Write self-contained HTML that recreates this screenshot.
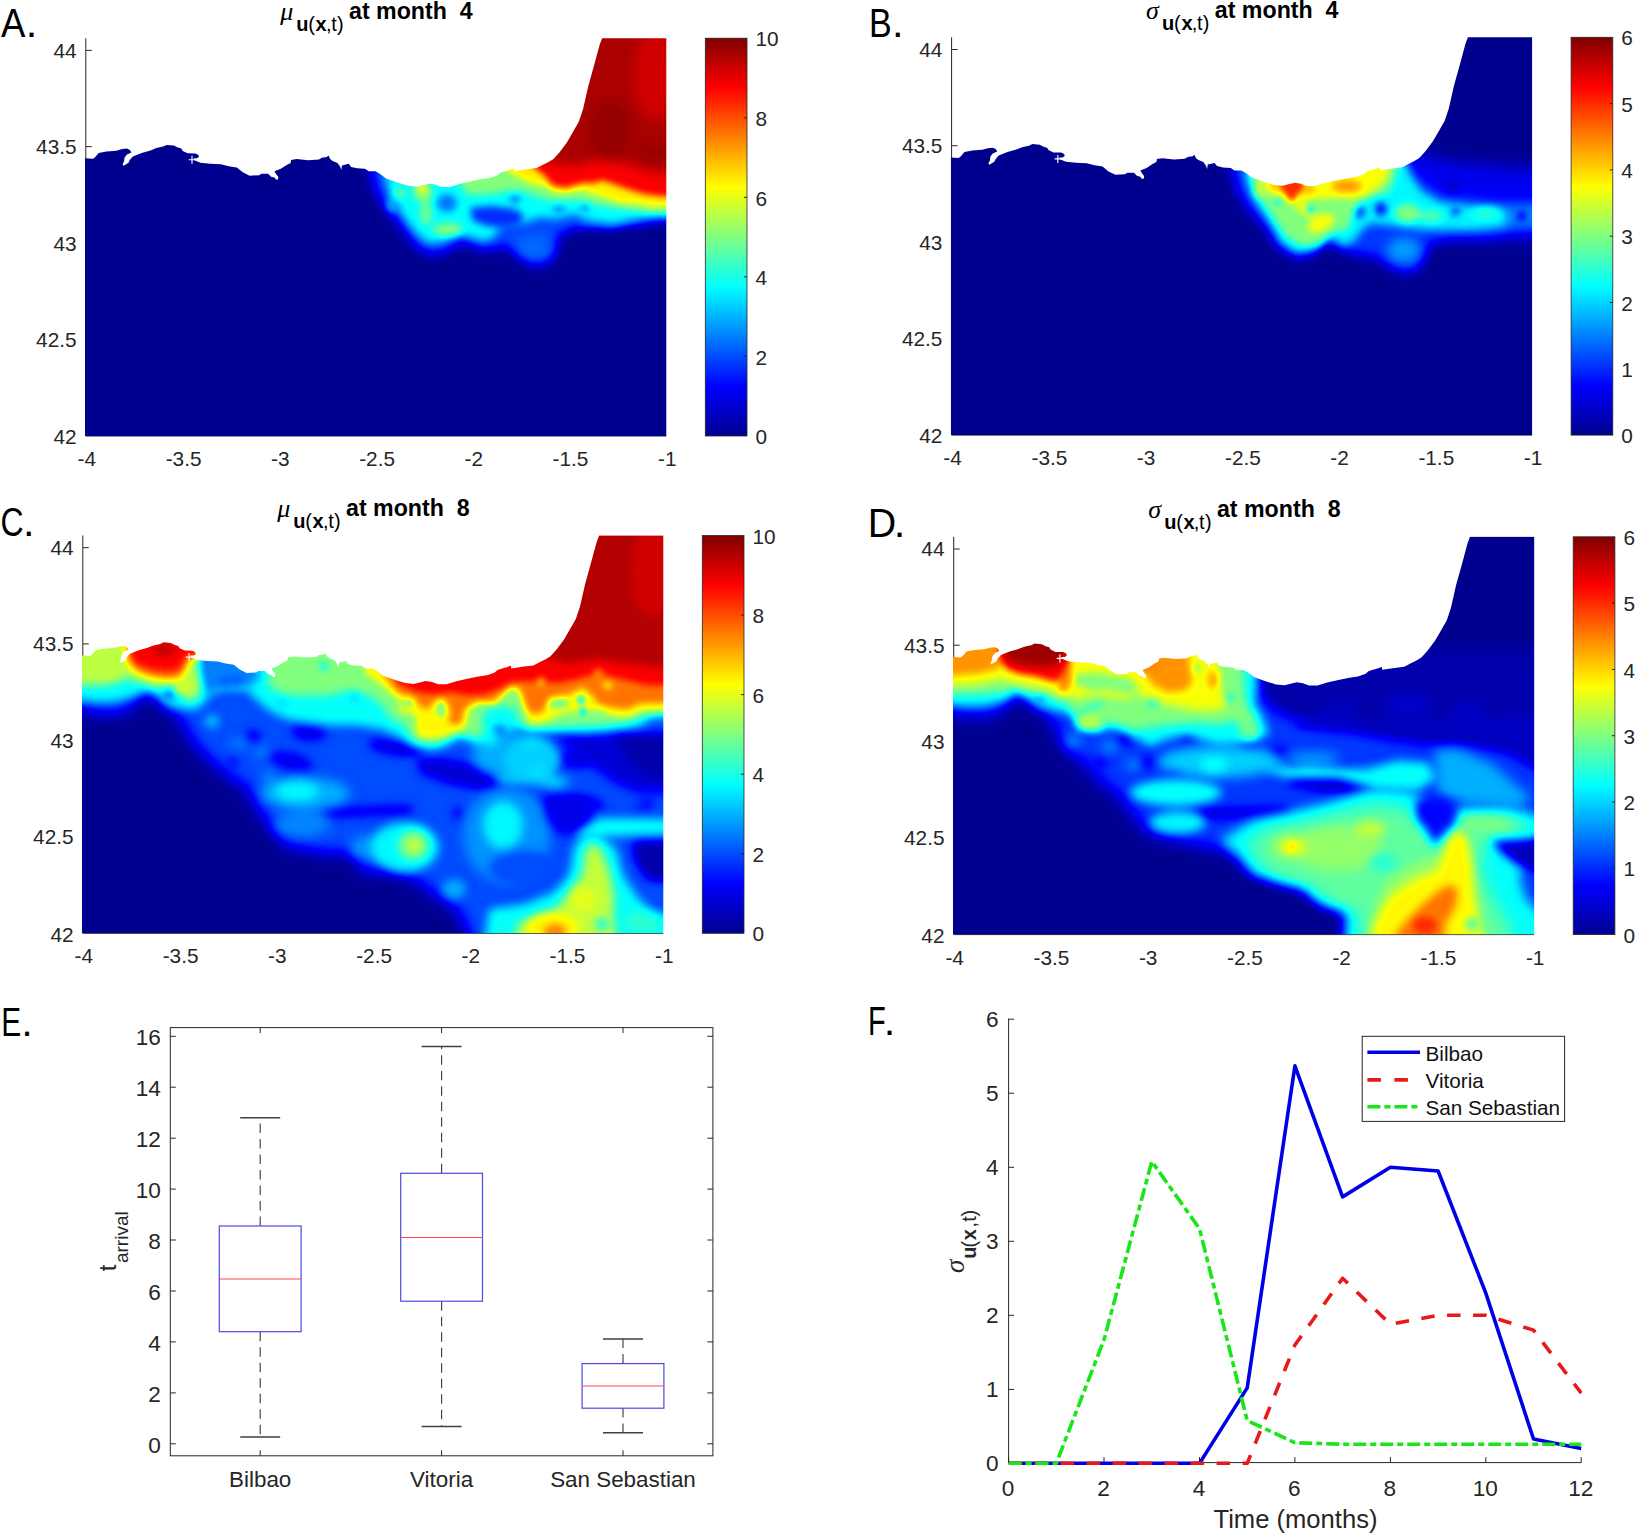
<!DOCTYPE html>
<html lang="en"><head><meta charset="utf-8"><title>Figure</title>
<style>
html,body{margin:0;padding:0;background:#fff}
svg{display:block}
text{font-family:"Liberation Sans",sans-serif;fill:#262626}
.tk{font-size:20.8px}
.tk2{font-size:22.6px}
.pl{font-size:41.5px;fill:#000}
.ttl{font-size:23.2px;font-weight:bold;fill:#000}
.sub{font-size:20px;fill:#000}
.mu{font-family:"Liberation Serif","DejaVu Serif",serif;font-style:italic;font-size:26px;fill:#000}
.ax{stroke:#262626;stroke-width:1;fill:none}
</style></head><body>
<svg width="1637" height="1535" viewBox="0 0 1637 1535">
<defs>
<clipPath id="coast"><path d="M85,158.3 92.8,158.8 94.8,157.4 98.7,153 106.5,151.5 116.3,150.7 122.1,149.1 127,148.6 129.9,150 131.4,152.5 127,154.4 124.6,157.4 124.1,161.3 122.6,164.2 123.6,165.7 128.5,162.7 129.9,159.8 132.9,156.4 141.7,153 150.5,150.5 156.3,148.1 163.2,146.6 166.6,144.9 173.9,145.6 177.8,147.6 181.3,148.6 182.7,151 187.6,153.3 195.4,153.5 198.4,154.9 198.9,156.9 196.9,158.3 193.5,158.3 194.5,160.3 200.3,162.7 210.1,163.7 220.9,164.2 228.7,166.2 236.8,167.4 242.7,172.3 249.6,175.7 259.3,175.2 261.3,173.7 268.1,173.7 271.1,176.7 274.5,177.6 275.9,179.6 277.9,179.6 278.4,177.1 275.9,173.7 274.5,171.3 280.8,168.8 286.7,164.9 290.6,163 291.1,160 296.5,159.1 308.2,160.3 319,159.6 321.9,157.8 326.8,157.1 328.5,155.6 330.2,159.1 332.6,161 337.5,163 340,166.4 341.4,169.8 341.9,165.4 348.8,163.8 351.2,166.9 357.1,168.3 364.9,168.8 368.8,171.3 375.6,171.3 380.5,174.2 386.1,178.5 398.3,182.8 408.1,185.8 416.7,186.7 428.9,183.7 435,184.6 441.1,187 449.6,187 459.4,184 470.4,181.5 481.4,179.1 490,177.9 497.3,175.4 501,172.4 509.5,169.9 513.8,168.3 514.4,171.2 526.6,169.3 536.4,168.1 542.5,165 548.6,162 553.5,158.9 559.6,152.2 566.9,142.4 570.5,136.3 578.8,121.8 583,109.3 588.2,86.5 593.4,67.8 599.6,44.9 602.1,38.2 666.3,38.2 666.3,436.0 85,436.0Z"/></clipPath>
<filter id="jet" color-interpolation-filters="sRGB" filterUnits="userSpaceOnUse" x="0" y="0" width="760" height="520"><feComponentTransfer><feFuncR type="table" tableValues="0 0 0 0 0.5 1 1 1 0.5"/><feFuncG type="table" tableValues="0 0 0.5 1 1 1 0.5 0 0"/><feFuncB type="table" tableValues="0.56 1 1 1 0.5 0 0 0 0"/></feComponentTransfer></filter>
<filter id="b2" color-interpolation-filters="sRGB" filterUnits="userSpaceOnUse" x="-100" y="-100" width="960" height="720"><feGaussianBlur stdDeviation="2"/></filter>
<filter id="b2_5" color-interpolation-filters="sRGB" filterUnits="userSpaceOnUse" x="-100" y="-100" width="960" height="720"><feGaussianBlur stdDeviation="2.5"/></filter>
<filter id="b3" color-interpolation-filters="sRGB" filterUnits="userSpaceOnUse" x="-100" y="-100" width="960" height="720"><feGaussianBlur stdDeviation="3"/></filter>
<filter id="b3_5" color-interpolation-filters="sRGB" filterUnits="userSpaceOnUse" x="-100" y="-100" width="960" height="720"><feGaussianBlur stdDeviation="3.5"/></filter>
<filter id="b4" color-interpolation-filters="sRGB" filterUnits="userSpaceOnUse" x="-100" y="-100" width="960" height="720"><feGaussianBlur stdDeviation="4"/></filter>
<filter id="b5" color-interpolation-filters="sRGB" filterUnits="userSpaceOnUse" x="-100" y="-100" width="960" height="720"><feGaussianBlur stdDeviation="5"/></filter>
<filter id="b6" color-interpolation-filters="sRGB" filterUnits="userSpaceOnUse" x="-100" y="-100" width="960" height="720"><feGaussianBlur stdDeviation="6"/></filter>
<filter id="b8" color-interpolation-filters="sRGB" filterUnits="userSpaceOnUse" x="-100" y="-100" width="960" height="720"><feGaussianBlur stdDeviation="8"/></filter>
<filter id="b10" color-interpolation-filters="sRGB" filterUnits="userSpaceOnUse" x="-100" y="-100" width="960" height="720"><feGaussianBlur stdDeviation="10"/></filter>
<filter id="b12" color-interpolation-filters="sRGB" filterUnits="userSpaceOnUse" x="-100" y="-100" width="960" height="720"><feGaussianBlur stdDeviation="12"/></filter>
<linearGradient id="jb" x1="0" y1="1" x2="0" y2="0"><stop offset="0" stop-color="#00008f"/><stop offset="0.125" stop-color="#0000ff"/><stop offset="0.25" stop-color="#0080ff"/><stop offset="0.375" stop-color="#00ffff"/><stop offset="0.5" stop-color="#80ff80"/><stop offset="0.625" stop-color="#ffff00"/><stop offset="0.75" stop-color="#ff8000"/><stop offset="0.875" stop-color="#ff0000"/><stop offset="1" stop-color="#800000"/></linearGradient>
</defs>
<rect width="1637" height="1535" fill="#fff"/>
<g transform="translate(0,0)">
<path class="ax" d="M85.8,38.2V436.0H666.3"/>
<path class="ax" d="M85.8,50.4h6M85.8,146.6h6"/>
<g clip-path="url(#coast)"><g filter="url(#jet)">
<rect x="-60" y="-60" width="880" height="640" fill="#000"/>
<g filter="url(#b6)"><polygon fill="#333333" points="366,140 372,178 377,195 392,215 406,234 418,249 432,255 446,252 457,245 465,242 476,249 492,250 505,246 515,254 528,264 545,266 556,254 559,236 575,228 640,224 700,218 700,140"/></g>
<g filter="url(#b3_5)"><polygon fill="#333333" points="556,140 556,226 575,222 586,226 600,227 612,228 630,224 650,219 700,216 700,140"/></g>
<g filter="url(#b6)"><ellipse fill="#3b3b3b" cx="534" cy="247" rx="17" ry="11"/></g>
<g filter="url(#b4)"><polygon fill="#616161" points="384,150 386,180 392,198 404,217 416,233 428,243 445,241 458,233 470,237 485,241 495,236 500,226 512,224 523,223 540,217 556,219 575,214 586,220 600,222 612,224 630,220 650,216 700,213 700,150"/></g>
<g filter="url(#b3_5)"><ellipse fill="#3d3d3d" cx="447" cy="203" rx="10" ry="9"/><polygon fill="#2b2b2b" points="470,208 490,206 510,208 523,213 521,224 505,228 487,226 473,221"/><ellipse fill="#383838" cx="515" cy="199" rx="5" ry="4"/><ellipse fill="#404040" cx="559" cy="209" rx="6" ry="4"/><ellipse fill="#404040" cx="585" cy="206" rx="4" ry="6"/><ellipse fill="#4c4c4c" cx="392" cy="205" rx="6" ry="8"/></g>
<g filter="url(#b3_5)"><polygon fill="#808080" points="458,150 460,184 468,195 490,194 508,191 520,190 535,196 552,201 575,200 592,204 610,207 630,210 650,213 700,212 700,150"/><ellipse fill="#808080" cx="448" cy="229.5" rx="15" ry="6.5"/><ellipse fill="#858585" cx="423" cy="193" rx="9" ry="9"/><ellipse fill="#808080" cx="426" cy="213" rx="5" ry="12"/><ellipse fill="#737373" cx="400" cy="193" rx="7" ry="6"/></g>
<g filter="url(#b3)"><polygon fill="#a3a3a3" points="506,150 508,172 520,178 532,184 545,186 553,192 568,193 582,190 596,195 609,199 620,203 637,204 650,207 700,207 700,150"/><ellipse fill="#9e9e9e" cx="422" cy="188" rx="6" ry="4.5"/></g>
<g filter="url(#b3)"><polygon fill="#e0e0e0" points="528,150 532,166 545,176 552,185 565,188 582,183 596,183 601,180 616,185 630,190 644,194 657,196 700,198 700,20 528,20"/></g>
<g filter="url(#b6)"><polygon fill="#f4f4f4" points="535,150 540,160 555,163 575,166 596,160 623,163 650,172 700,176 700,0 535,0"/><ellipse fill="#ebebeb" cx="655" cy="75" rx="22" ry="45"/><ellipse fill="#f9f9f9" cx="610" cy="130" rx="22" ry="30"/><ellipse fill="#f9f9f9" cx="655" cy="152" rx="18" ry="8"/></g>
</g></g>
<path d="M188.8,159.8h6.4M192,155.8v8" stroke="#fff" stroke-width="1.1" fill="none"/>
<text class="tk" x="76.6" y="57.9" text-anchor="end">44</text>
<text class="tk" x="76.6" y="154.1" text-anchor="end">43.5</text>
<text class="tk" x="76.6" y="250.5" text-anchor="end">43</text>
<text class="tk" x="76.6" y="346.9" text-anchor="end">42.5</text>
<text class="tk" x="76.6" y="444.3" text-anchor="end">42</text>
<text class="tk" x="86.8" y="466" text-anchor="middle">-4</text>
<text class="tk" x="183.6" y="466" text-anchor="middle">-3.5</text>
<text class="tk" x="280.3" y="466" text-anchor="middle">-3</text>
<text class="tk" x="377.1" y="466" text-anchor="middle">-2.5</text>
<text class="tk" x="473.8" y="466" text-anchor="middle">-2</text>
<text class="tk" x="570.5" y="466" text-anchor="middle">-1.5</text>
<text class="tk" x="667.3" y="466" text-anchor="middle">-1</text>
<rect x="705.3" y="38.2" width="41.7" height="397.8" fill="url(#jb)" stroke="#262626" stroke-width="0.8"/>
<text class="tk" x="755.5" y="444.2">0</text>
<path class="ax" d="M747,356.4h-3"/>
<text class="tk" x="755.5" y="364.6">2</text>
<path class="ax" d="M747,276.9h-3"/>
<text class="tk" x="755.5" y="285.1">4</text>
<path class="ax" d="M747,197.3h-3"/>
<text class="tk" x="755.5" y="205.5">6</text>
<path class="ax" d="M747,117.8h-3"/>
<text class="tk" x="755.5" y="126.0">8</text>
<text class="tk" x="755.5" y="46.4">10</text>
<text class="mu" x="280.3" y="19.6">μ</text>
<text class="sub" y="30.8"><tspan x="296.3" font-weight="bold">u</tspan><tspan x="308.3">(</tspan><tspan x="315.6" font-weight="bold">x</tspan><tspan x="325.9">,</tspan><tspan x="331.2">t</tspan><tspan x="337">)</tspan></text>
<text class="ttl" x="349" y="18.8" xml:space="preserve">at month  4</text>
</g>
<g transform="translate(865.8,-0.9)">
<path class="ax" d="M85.8,38.2V436.0H666.3"/>
<path class="ax" d="M85.8,50.4h6M85.8,146.6h6"/>
<g clip-path="url(#coast)"><g filter="url(#jet)">
<rect x="-60" y="-60" width="880" height="640" fill="#000"/>
<g filter="url(#b8)"><polygon fill="#1c1c1c" points="540,140 560,156 585,163 620,166 700,172 700,240 540,240"/></g>
<g filter="url(#b6)"><polygon fill="#2e2e2e" points="360,140 366,172 371,192 384,212 402,232 412,248 428,258 445,258 455,248 463,244 472,250 490,256 508,258 520,266 535,274 552,272 560,258 564,244 585,239 625,239 648,234 700,231 700,203 620,199 575,193 552,178 542,160 540,140"/></g>
<g filter="url(#b6)"><ellipse fill="#474747" cx="538" cy="251" rx="17" ry="13"/></g>
<g filter="url(#b4)"><polygon fill="#5e5e5e" points="378,150 380,178 386,198 398,215 407,229 415,244 431,254 450,250 458,243 463,239 470,241 476,247 488,243 497,230 506,224 520,226 535,228 560,231 585,231 610,231 640,228 650,222 648,213 640,209 600,206 575,203 556,192 544,174 535,150"/><polygon fill="#404040" points="640,207 700,205 700,226 640,228"/><ellipse fill="#0d0d0d" cx="586" cy="187" rx="7" ry="5"/></g>
<g filter="url(#b3)"><ellipse fill="#333333" cx="493" cy="213" rx="7" ry="6"/><ellipse fill="#262626" cx="515" cy="210" rx="6" ry="7"/><ellipse fill="#333333" cx="590" cy="213" rx="5" ry="5"/><ellipse fill="#1a1a1a" cx="656" cy="217" rx="4" ry="5"/></g>
<g filter="url(#b3_5)"><polygon fill="#808080" points="384,150 386,180 392,196 402,210 411,224 421,238 436,247 452,245 462,237 470,232 480,232 486,220 492,205 500,200 510,196 522,194 528,182 532,168 532,150"/><ellipse fill="#808080" cx="542" cy="214" rx="13" ry="9"/><ellipse fill="#737373" cx="566" cy="217" rx="12" ry="6"/><ellipse fill="#696969" cx="620" cy="214" rx="14" ry="6"/><ellipse fill="#5c5c5c" cx="596" cy="221" rx="8" ry="4"/></g>
<g filter="url(#b3)"><polygon fill="#9e9e9e" points="392,150 393,182 400,192 412,197 424,205 436,204 446,200 456,200 470,199 485,200 500,197 512,189 522,178 524,150"/><ellipse fill="#9e9e9e" cx="455" cy="224" rx="14" ry="8" transform="rotate(-25 455 224)"/><polygon fill="#999999" points="424,200 430,210 442,218 452,216 440,204 430,196"/><ellipse fill="#8f8f8f" cx="397" cy="190" rx="8" ry="8"/></g>
<g filter="url(#b2)"><ellipse fill="#616161" cx="445" cy="210" rx="4" ry="3.5"/><ellipse fill="#6b6b6b" cx="412" cy="203" rx="5" ry="3"/></g>
<g filter="url(#b3)"><ellipse fill="#b8b8b8" cx="481" cy="187" rx="15" ry="6.5"/><ellipse fill="#b2b2b2" cx="440" cy="190" rx="10" ry="5"/><ellipse fill="#b2b2b2" cx="410" cy="187" rx="8" ry="4"/></g>
<g filter="url(#b2_5)"><polygon fill="#d4d4d4" points="415,178 436,178 438,188 426,203 414,188"/></g>
</g></g>
<path d="M188.8,159.8h6.4M192,155.8v8" stroke="#fff" stroke-width="1.1" fill="none"/>
<text class="tk" x="76.6" y="57.9" text-anchor="end">44</text>
<text class="tk" x="76.6" y="154.1" text-anchor="end">43.5</text>
<text class="tk" x="76.6" y="250.5" text-anchor="end">43</text>
<text class="tk" x="76.6" y="346.9" text-anchor="end">42.5</text>
<text class="tk" x="76.6" y="444.3" text-anchor="end">42</text>
<text class="tk" x="86.8" y="466" text-anchor="middle">-4</text>
<text class="tk" x="183.6" y="466" text-anchor="middle">-3.5</text>
<text class="tk" x="280.3" y="466" text-anchor="middle">-3</text>
<text class="tk" x="377.1" y="466" text-anchor="middle">-2.5</text>
<text class="tk" x="473.8" y="466" text-anchor="middle">-2</text>
<text class="tk" x="570.5" y="466" text-anchor="middle">-1.5</text>
<text class="tk" x="667.3" y="466" text-anchor="middle">-1</text>
<rect x="705.3" y="38.2" width="41.7" height="397.8" fill="url(#jb)" stroke="#262626" stroke-width="0.8"/>
<text class="tk" x="755.5" y="444.2">0</text>
<path class="ax" d="M747,369.7h-3"/>
<text class="tk" x="755.5" y="377.9">1</text>
<path class="ax" d="M747,303.4h-3"/>
<text class="tk" x="755.5" y="311.6">2</text>
<path class="ax" d="M747,237.1h-3"/>
<text class="tk" x="755.5" y="245.3">3</text>
<path class="ax" d="M747,170.8h-3"/>
<text class="tk" x="755.5" y="179.0">4</text>
<path class="ax" d="M747,104.5h-3"/>
<text class="tk" x="755.5" y="112.7">5</text>
<text class="tk" x="755.5" y="46.4">6</text>
<text class="mu" x="280.3" y="19.6">σ</text>
<text class="sub" y="30.8"><tspan x="296.3" font-weight="bold">u</tspan><tspan x="308.3">(</tspan><tspan x="315.6" font-weight="bold">x</tspan><tspan x="325.9">,</tspan><tspan x="331.2">t</tspan><tspan x="337">)</tspan></text>
<text class="ttl" x="349" y="18.8" xml:space="preserve">at month  4</text>
</g>
<g transform="translate(-3,497.3)">
<path class="ax" d="M85.8,38.2V436.0H666.3"/>
<path class="ax" d="M85.8,50.4h6M85.8,146.6h6"/>
<g clip-path="url(#coast)"><g filter="url(#jet)">
<rect x="-60" y="-60" width="880" height="640" fill="#000"/>
<g filter="url(#b8)"><polygon fill="#333333" points="60,120 60,206 101,216 120,217 134,211 142,201 151,196 159,201 166,210 181,218 187,230 199,249 217,267 236,283 250,290 257,306 271,326 287,348 327,356 354,356 367,375 394,375 421,384 435,396 453,407 465,420 478,460 720,460 720,120"/></g>
<g filter="url(#b5)"><polygon fill="#171717" points="296,228 324,230 330,240 310,244 296,238"/><polygon fill="#1a1a1a" points="270,254 300,256 316,266 312,274 290,272 272,264"/><polygon fill="#141414" points="372,242 400,244 422,250 424,258 400,258 376,252"/><polygon fill="#141414" points="420,262 450,262 480,268 503,280 503,292 480,292 450,286 424,276"/><ellipse fill="#121212" cx="256" cy="239" rx="7" ry="5"/><ellipse fill="#1a1a1a" cx="236" cy="265" rx="5" ry="5"/><ellipse fill="#141414" cx="461" cy="278" rx="9" ry="5"/><ellipse fill="#1a1a1a" cx="461" cy="316" rx="6" ry="5"/><ellipse fill="#141414" cx="558" cy="305" rx="10" ry="7"/><ellipse fill="#171717" cx="584" cy="300" rx="6" ry="5"/><ellipse fill="#0f0f0f" cx="647" cy="306" rx="9" ry="5"/><polygon fill="#080808" points="612,242 720,238 720,264 660,264 640,272 615,260"/><polygon fill="#080808" points="636,344 720,342 720,388 650,382 638,362"/><polygon fill="#141414" points="322,312 415,308 415,316 332,320"/><ellipse fill="#1a1a1a" cx="580" cy="262" rx="18" ry="10"/><polygon fill="#1a1a1a" points="540,300 600,296 610,310 560,318"/></g>
<g filter="url(#b6)"><ellipse fill="#4c4c4c" cx="308" cy="296" rx="45" ry="16"/><ellipse fill="#424242" cx="305" cy="327" rx="28" ry="13"/><ellipse fill="#454545" cx="510" cy="338" rx="44" ry="48"/><ellipse fill="#4c4c4c" cx="515" cy="258" rx="40" ry="22"/><ellipse fill="#474747" cx="375" cy="350" rx="22" ry="12"/><ellipse fill="#454545" cx="242" cy="246" rx="9" ry="5"/><ellipse fill="#454545" cx="266" cy="255" rx="9" ry="5"/><ellipse fill="#454545" cx="272" cy="279" rx="6" ry="7"/></g>
<g filter="url(#b5)"><ellipse fill="#5e5e5e" cx="300" cy="294" rx="22" ry="10"/><ellipse fill="#575757" cx="215" cy="224" rx="7" ry="6"/><ellipse fill="#5e5e5e" cx="408" cy="350" rx="34" ry="25"/><ellipse fill="#5e5e5e" cx="506" cy="328" rx="20" ry="24"/><ellipse fill="#545454" cx="535" cy="262" rx="28" ry="22"/><polygon fill="#545454" points="500,276 560,278 580,284 560,292 540,288 500,284"/><polygon fill="#616161" points="577,326 600,321 640,321 720,323 720,336 640,338 600,340 580,338"/><ellipse fill="#4c4c4c" cx="457" cy="392" rx="12" ry="10"/><ellipse fill="#595959" cx="535" cy="245" rx="10" ry="6"/><ellipse fill="#595959" cx="540" cy="274" rx="9" ry="6"/><ellipse fill="#333333" cx="527" cy="371" rx="35" ry="18"/></g>
<g filter="url(#b6)"><polygon fill="#141414" points="556,238 600,238 720,238 720,298 640,294 616,284 594,266 572,250"/><polygon fill="#333333" points="575,276 600,284 640,298 660,306 640,310 600,300 570,288"/></g>
<g filter="url(#b5)"><polygon fill="#080808" points="620,240 720,240 720,282 655,280 632,264"/><polygon fill="#1a1a1a" points="548,302 575,300 596,306 596,322 580,336 562,338 550,320"/></g>
<g filter="url(#b5)"><polygon fill="#616161" points="485,460 492,412 527,407 555,396 572,378 577,351 584,339 600,336 619,351 626,378 640,399 654,413 720,432 720,460"/><ellipse fill="#787878" cx="416" cy="348" rx="16" ry="15"/></g>
<g filter="url(#b5)"><polygon fill="#919191" points="512,460 522,426 556,414 573,396 586,376 589,353 596,346 604,353 612,374 617,398 616,420 622,460"/><ellipse fill="#919191" cx="417" cy="348" rx="9" ry="9"/><ellipse fill="#6b6b6b" cx="645" cy="425" rx="18" ry="10"/></g>
<g filter="url(#b4)"><ellipse fill="#a3a3a3" cx="556" cy="430" rx="26" ry="14"/><ellipse fill="#999999" cx="586" cy="402" rx="13" ry="12"/><ellipse fill="#5c5c5c" cx="605" cy="427" rx="6" ry="6"/></g>
<g filter="url(#b3)"><ellipse fill="#bdbdbd" cx="558" cy="434" rx="11" ry="7"/></g>
<g filter="url(#b5)"><polygon fill="#616161" points="60,120 60,200 100,205 120,204 135,200 150,193 160,198 170,208 185,212 200,212 208,205 215,195 230,192 250,193 262,205 275,215 290,222 310,225 335,228 360,228 385,232 403,240 416,248 437,252 450,248 462,240 470,243 480,248 497,248 506,238 520,232 545,234 565,234 590,235 610,233 625,231 643,229 654,221 720,216 720,120"/></g>
<g filter="url(#b4)"><polygon fill="#404040" points="200,150 250,160 264,178 252,190 225,190 212,198 203,185"/><ellipse fill="#2e2e2e" cx="228" cy="186" rx="6" ry="4"/><ellipse fill="#2e2e2e" cx="240" cy="184" rx="5" ry="4"/><ellipse fill="#141414" cx="172" cy="197.5" rx="4" ry="3.5"/><ellipse fill="#262626" cx="503" cy="233" rx="5" ry="4"/></g>
<g filter="url(#b4)"><polygon fill="#8f8f8f" points="60,120 60,186 100,188 118,186 130,180 140,184 160,190 175,187 185,196 192,204 200,200 204,188 200,170 198,120"/><polygon fill="#808080" points="272,120 272,190 290,198 330,198 352,193 372,198 386,208 394,222 403,224 412,235 420,245 437,247 451,242 456,238 467,237 480,240 487,235 485,223 489,214 497,211 510,207 519,216 523,224 531,231 560,230 590,228 606,228 625,226 640,222 652,216 720,213 720,120"/></g>
<g filter="url(#b3)"><ellipse fill="#5e5e5e" cx="327" cy="169" rx="4" ry="4"/><ellipse fill="#575757" cx="285" cy="205" rx="6" ry="4"/><ellipse fill="#575757" cx="358" cy="200" rx="6" ry="4"/><ellipse fill="#666666" cx="493" cy="219" rx="4" ry="5"/></g>
<g filter="url(#b3)"><polygon fill="#a1a1a1" points="366,120 368,176 380,184 394,196 403,203 403,214 416,216 420,223 418,231 422,240 437,241 451,238 458,234 466,233 471,223 471,214 478,207 489,205 499,206 506,199 514,191 523,197 525,207 530,217 531,226 548,225 560,218 572,214 590,214 602,212 614,218 630,220 643,214 720,210 720,120"/><polygon fill="#999999" points="128,120 128,166 137,175 151,180 168,183 181,183 188,176 191,164 195,120"/><ellipse fill="#949494" cx="186" cy="190" rx="8" ry="6"/></g>
<g filter="url(#b2_5)"><ellipse fill="#808080" cx="444" cy="212" rx="5" ry="8"/><ellipse fill="#808080" cx="410" cy="206" rx="7" ry="3.5"/><ellipse fill="#808080" cx="514" cy="203" rx="5" ry="7"/><ellipse fill="#6b6b6b" cx="516" cy="212" rx="4" ry="3"/><ellipse fill="#808080" cx="561" cy="206" rx="11" ry="6"/><ellipse fill="#666666" cx="584" cy="203" rx="4" ry="5"/><ellipse fill="#404040" cx="586" cy="214" rx="3" ry="3"/></g>
<g filter="url(#b3)"><polygon fill="#c2c2c2" points="385,120 388,180 403,197 416,199 424,210 431,212 437,204 444,200 451,205 454,216 451,224 458,228 465,224 466,214 473,207 480,204 497,204 504,197 510,191 516,187 523,191 527,201 530,211 536,217 546,214 553,200 572,197 585,190 594,196 601,206 614,210 630,212 643,206 720,204 720,120"/></g>
<g filter="url(#b3)"><polygon fill="#e0e0e0" points="396,120 400,186 420,195 437,197 454,195 471,198 488,197 501,192 514,185 527,184 543,185 560,186 580,182 600,176 625,182 650,188 720,190 720,120"/><polygon fill="#a3a3a3" points="188,120 188,160 200,161 201,120"/><ellipse fill="#a3a3a3" cx="544" cy="184" rx="4" ry="3"/><ellipse fill="#a3a3a3" cx="610.5" cy="188" rx="5" ry="4"/><ellipse fill="#b2b2b2" cx="601.5" cy="175" rx="4" ry="3"/></g>
<g filter="url(#b4)"><polygon fill="#cccccc" points="130,120 131,162 138,172 152,178 168,181 182,180 188,172 191,162 201,160 202,120"/></g>
<g filter="url(#b3_5)"><polygon fill="#e0e0e0" points="133,120 135,160 142,167 154,171 168,173 180,172 185,166 188,158 200,157 201,120"/></g>
<g filter="url(#b5)"><polygon fill="#f2f2f2" points="545,120 548,160 570,166 600,162 630,166 660,170 720,172 720,0 545,0"/><ellipse fill="#f0f0f0" cx="167" cy="152" rx="12" ry="6"/><ellipse fill="#ebebeb" cx="655" cy="75" rx="22" ry="45"/></g>
</g></g>
<path d="M188.8,159.8h6.4M192,155.8v8" stroke="#fff" stroke-width="1.1" fill="none"/>
<text class="tk" x="76.6" y="57.9" text-anchor="end">44</text>
<text class="tk" x="76.6" y="154.1" text-anchor="end">43.5</text>
<text class="tk" x="76.6" y="250.5" text-anchor="end">43</text>
<text class="tk" x="76.6" y="346.9" text-anchor="end">42.5</text>
<text class="tk" x="76.6" y="444.3" text-anchor="end">42</text>
<text class="tk" x="86.8" y="466" text-anchor="middle">-4</text>
<text class="tk" x="183.6" y="466" text-anchor="middle">-3.5</text>
<text class="tk" x="280.3" y="466" text-anchor="middle">-3</text>
<text class="tk" x="377.1" y="466" text-anchor="middle">-2.5</text>
<text class="tk" x="473.8" y="466" text-anchor="middle">-2</text>
<text class="tk" x="570.5" y="466" text-anchor="middle">-1.5</text>
<text class="tk" x="667.3" y="466" text-anchor="middle">-1</text>
<rect x="705.3" y="38.2" width="41.7" height="397.8" fill="url(#jb)" stroke="#262626" stroke-width="0.8"/>
<text class="tk" x="755.5" y="444.2">0</text>
<path class="ax" d="M747,356.4h-3"/>
<text class="tk" x="755.5" y="364.6">2</text>
<path class="ax" d="M747,276.9h-3"/>
<text class="tk" x="755.5" y="285.1">4</text>
<path class="ax" d="M747,197.3h-3"/>
<text class="tk" x="755.5" y="205.5">6</text>
<path class="ax" d="M747,117.8h-3"/>
<text class="tk" x="755.5" y="126.0">8</text>
<text class="tk" x="755.5" y="46.4">10</text>
<text class="mu" x="280.3" y="19.6">μ</text>
<text class="sub" y="30.8"><tspan x="296.3" font-weight="bold">u</tspan><tspan x="308.3">(</tspan><tspan x="315.6" font-weight="bold">x</tspan><tspan x="325.9">,</tspan><tspan x="331.2">t</tspan><tspan x="337">)</tspan></text>
<text class="ttl" x="349" y="18.8" xml:space="preserve">at month  8</text>
</g>
<g transform="translate(867.9,498.6)">
<path class="ax" d="M85.8,38.2V436.0H666.3"/>
<path class="ax" d="M85.8,50.4h6M85.8,146.6h6"/>
<g clip-path="url(#coast)"><g filter="url(#jet)">
<rect x="-60" y="-60" width="880" height="640" fill="#000"/>
<g filter="url(#b8)"><polygon fill="#2e2e2e" points="60,120 60,210 101,218 120,218 134,213 142,203 151,196 157,200 166,210 181,217 189,236 199,254 217,266 232,284 250,296 260,310 281,336 327,347 359,352 384,374 435,385 448,401 478,410 474,460 720,460 720,300 690,262 640,248 600,242 560,242 520,236 480,226 440,220 410,210 395,190 390,120"/></g>
<g filter="url(#b8)"><polygon fill="#080808" points="395,150 560,150 720,150 720,240 640,236 560,232 500,226 440,214 400,200"/><ellipse fill="#141414" cx="470" cy="215" rx="20" ry="8"/><ellipse fill="#141414" cx="540" cy="208" rx="25" ry="10"/><ellipse fill="#141414" cx="600" cy="215" rx="20" ry="8"/><ellipse fill="#121212" cx="650" cy="218" rx="12" ry="6"/></g>
<g filter="url(#b5)"><ellipse fill="#0f0f0f" cx="257" cy="240" rx="8" ry="5"/><ellipse fill="#0d0d0d" cx="319" cy="236" rx="10" ry="7"/><ellipse fill="#121212" cx="380" cy="247" rx="7" ry="5"/><ellipse fill="#141414" cx="279" cy="264" rx="8" ry="5"/><ellipse fill="#121212" cx="410" cy="254" rx="10" ry="5"/><ellipse fill="#141414" cx="233" cy="264" rx="5" ry="5"/><ellipse fill="#141414" cx="309" cy="270" rx="5" ry="5"/><polygon fill="#0f0f0f" points="420,264 450,264 480,268 506,278 506,294 480,296 450,292 422,286"/><polygon fill="#141414" points="327,310 421,308 421,318 332,321"/><ellipse fill="#121212" cx="560" cy="312" rx="14" ry="12"/><polygon fill="#0a0a0a" points="634,340 720,338 720,368 660,366 640,356"/><ellipse fill="#0f0f0f" cx="456" cy="278" rx="10" ry="5"/><polygon fill="#0f0f0f" points="430,228 500,232 560,238 600,240 640,252 666,270 720,290 720,220 430,220"/></g>
<g filter="url(#b6)"><ellipse fill="#545454" cx="352" cy="263" rx="62" ry="16"/><polygon fill="#4c4c4c" points="566,252 590,250 625,266 652,290 664,300 650,310 600,306 570,296"/><ellipse fill="#474747" cx="205" cy="242" rx="8" ry="7"/><ellipse fill="#474747" cx="242" cy="248" rx="9" ry="6"/><ellipse fill="#474747" cx="266" cy="266" rx="8" ry="6"/><ellipse fill="#4c4c4c" cx="445" cy="260" rx="28" ry="6"/></g>
<g filter="url(#b5)"><ellipse fill="#616161" cx="308" cy="294" rx="46" ry="13"/><ellipse fill="#5e5e5e" cx="310" cy="324" rx="28" ry="11"/><polygon fill="#616161" points="395,270 440,266 500,270 530,262 560,264 568,280 550,292 505,290 470,280 420,280"/><ellipse fill="#616161" cx="346" cy="266" rx="14" ry="8"/></g>
<g filter="url(#b6)"><polygon fill="#616161" points="352,342 384,322 421,314 464,303 502,290 540,292 575,310 600,312 640,312 690,320 690,338 660,345 652,380 658,400 690,432 690,460 476,460 480,412 450,403 436,387 386,376 372,358"/></g>
<g filter="url(#b8)"><polygon fill="#787878" points="380,345 400,330 440,322 480,312 510,306 540,312 556,330 575,332 590,318 630,316 660,322 655,334 620,340 612,370 625,400 640,425 650,460 490,460 492,415 462,404 446,390 410,380 392,366"/></g>
<g filter="url(#b6)"><ellipse fill="#858585" cx="470" cy="350" rx="45" ry="22"/><polygon fill="#878787" points="520,380 560,360 600,350 610,400 620,460 500,460 505,420"/><ellipse fill="#808080" cx="615" cy="325" rx="30" ry="7"/><ellipse fill="#8f8f8f" cx="424" cy="348" rx="18" ry="11"/></g>
<g filter="url(#b4)"><ellipse fill="#1a1a1a" cx="562" cy="312" rx="10" ry="9"/><ellipse fill="#6b6b6b" cx="516" cy="364" rx="14" ry="10"/><ellipse fill="#8f8f8f" cx="502" cy="331" rx="16" ry="9"/></g>
<g filter="url(#b5)"><polygon fill="#a1a1a1" points="500,460 506,426 520,400 545,382 570,372 580,340 588,330 600,340 604,372 606,400 612,430 616,460"/><ellipse fill="#a1a1a1" cx="424" cy="348.5" rx="10" ry="6"/></g>
<g filter="url(#b4)"><polygon fill="#c2c2c2" points="524,460 530,432 548,412 566,396 580,386 590,390 588,408 578,424 574,460"/><ellipse fill="#666666" cx="604" cy="426" rx="6" ry="6"/></g>
<g filter="url(#b3)"><ellipse fill="#d4d4d4" cx="557" cy="427" rx="12" ry="9"/><ellipse fill="#b8b8b8" cx="424" cy="348.5" rx="3" ry="2.5"/></g>
<g filter="url(#b5)"><polygon fill="#0d0d0d" points="624,343 720,339 720,372 668,372 646,364 632,352"/><polygon fill="#212121" points="548,302 575,299 590,306 588,324 574,338 566,348 561,336 550,320"/></g>
<g filter="url(#b5)"><polygon fill="#616161" points="60,120 60,204 100,208 120,207 135,203 150,194 160,200 170,208 185,212 205,216 211,229 230,233 242,230 254,233 272,242 283,248 300,240 322,238 350,246 380,244 392,240 401,236 396,220 387,205 389,185 392,120"/></g>
<g filter="url(#b4)"><ellipse fill="#141414" cx="173.5" cy="197.5" rx="4" ry="3.5"/></g>
<g filter="url(#b4)"><polygon fill="#808080" points="60,120 60,195 90,196 118,195 135,194 148,189 160,194 175,196 190,202 200,206 206,216 213,226 228,230 240,224 252,226 266,232 285,228 300,226 330,224 350,226 366,222 372,228 380,238 388,234 387,220 378,205 376,190 374,120"/></g>
<g filter="url(#b3)"><ellipse fill="#616161" cx="222" cy="187" rx="4" ry="3.5"/><ellipse fill="#616161" cx="239.5" cy="187" rx="4" ry="3.5"/><ellipse fill="#616161" cx="266" cy="192" rx="4" ry="5"/><ellipse fill="#616161" cx="285" cy="204" rx="5" ry="4"/><ellipse fill="#616161" cx="361" cy="199" rx="5" ry="4"/><polygon fill="#616161" points="205,216 220,209 236,203 236,206 222,212 207,219"/></g>
<g filter="url(#b4)"><polygon fill="#9e9e9e" points="60,120 60,186 85,187 110,186 132,181 150,186 165,188 178,191 190,196 200,198 212,200 225,196 240,198 256,200 270,196 280,200 300,206 328,212 345,212 358,210 356,196 352,186 350,120"/><ellipse fill="#8f8f8f" cx="221" cy="224" rx="12" ry="7"/><ellipse fill="#7a7a7a" cx="381" cy="233" rx="10" ry="7"/></g>
<g filter="url(#b3)"><polygon fill="#808080" points="206,176 230,174 262,180 272,190 262,196 240,192 222,192 208,186"/><ellipse fill="#808080" cx="328" cy="170" rx="4" ry="4"/><ellipse fill="#737373" cx="285" cy="204" rx="4" ry="3"/></g>
<g filter="url(#b3_5)"><polygon fill="#bababa" points="60,120 60,176 85,177 110,175 132,170 140,120"/><polygon fill="#bababa" points="274,120 276,172 284,186 300,194 318,192 325,182 322,166 318,120"/><ellipse fill="#b8b8b8" cx="345" cy="181" rx="5" ry="9"/><polygon fill="#bdbdbd" points="268,120 268,172 280,178 292,172 292,120"/><polygon fill="#bfbfbf" points="190,120 190,184 193,195 199,192 204,181 203,166 200,120"/></g>
<g filter="url(#b3)"><polygon fill="#e0e0e0" points="131,120 132,162 138,170 150,175 168,178 181,182 189,183 195,176 200,164 200,120"/></g>
<g filter="url(#b4)"><polygon fill="#f7f7f7" points="134,120 136,158 150,166 170,168 186,168 197,160 199,120"/></g>
</g></g>
<path d="M188.8,159.8h6.4M192,155.8v8" stroke="#fff" stroke-width="1.1" fill="none"/>
<text class="tk" x="76.6" y="57.9" text-anchor="end">44</text>
<text class="tk" x="76.6" y="154.1" text-anchor="end">43.5</text>
<text class="tk" x="76.6" y="250.5" text-anchor="end">43</text>
<text class="tk" x="76.6" y="346.9" text-anchor="end">42.5</text>
<text class="tk" x="76.6" y="444.3" text-anchor="end">42</text>
<text class="tk" x="86.8" y="466" text-anchor="middle">-4</text>
<text class="tk" x="183.6" y="466" text-anchor="middle">-3.5</text>
<text class="tk" x="280.3" y="466" text-anchor="middle">-3</text>
<text class="tk" x="377.1" y="466" text-anchor="middle">-2.5</text>
<text class="tk" x="473.8" y="466" text-anchor="middle">-2</text>
<text class="tk" x="570.5" y="466" text-anchor="middle">-1.5</text>
<text class="tk" x="667.3" y="466" text-anchor="middle">-1</text>
<rect x="705.3" y="38.2" width="41.7" height="397.8" fill="url(#jb)" stroke="#262626" stroke-width="0.8"/>
<text class="tk" x="755.5" y="444.2">0</text>
<path class="ax" d="M747,369.7h-3"/>
<text class="tk" x="755.5" y="377.9">1</text>
<path class="ax" d="M747,303.4h-3"/>
<text class="tk" x="755.5" y="311.6">2</text>
<path class="ax" d="M747,237.1h-3"/>
<text class="tk" x="755.5" y="245.3">3</text>
<path class="ax" d="M747,170.8h-3"/>
<text class="tk" x="755.5" y="179.0">4</text>
<path class="ax" d="M747,104.5h-3"/>
<text class="tk" x="755.5" y="112.7">5</text>
<text class="tk" x="755.5" y="46.4">6</text>
<text class="mu" x="280.3" y="19.6">σ</text>
<text class="sub" y="30.8"><tspan x="296.3" font-weight="bold">u</tspan><tspan x="308.3">(</tspan><tspan x="315.6" font-weight="bold">x</tspan><tspan x="325.9">,</tspan><tspan x="331.2">t</tspan><tspan x="337">)</tspan></text>
<text class="ttl" x="349" y="18.8" xml:space="preserve">at month  8</text>
</g>
<text class="pl" transform="translate(1,36.6) scale(0.88,1)">A</text><text class="pl" x="25.8" y="36.6">.</text>
<text class="pl" transform="translate(868.9,36.6) scale(0.82,1)">B</text><text class="pl" x="892" y="36.6">.</text>
<text class="pl" transform="translate(0.4,536.3) scale(0.77,1)">C</text><text class="pl" x="23" y="536.3">.</text>
<text class="pl" transform="translate(867.8,536.6) scale(0.95,1)">D</text><text class="pl" x="893.7" y="536.6">.</text>
<text class="pl" transform="translate(1.3,1036.2) scale(0.72,1)">E</text><text class="pl" x="21.2" y="1036.2">.</text>
<text class="pl" transform="translate(868.1,1035.3) scale(0.7,1)">F</text><text class="pl" x="883.8" y="1035.3">.</text>
<rect class="ax" x="170.3" y="1027.6" width="542.6" height="428.2"/>
<text class="tk2" x="160.9" y="1452.8" text-anchor="end">0</text>
<text class="tk2" x="160.9" y="1401.9" text-anchor="end">2</text>
<text class="tk2" x="160.9" y="1350.9" text-anchor="end">4</text>
<text class="tk2" x="160.9" y="1300.0" text-anchor="end">6</text>
<text class="tk2" x="160.9" y="1249.0" text-anchor="end">8</text>
<text class="tk2" x="160.9" y="1198.1" text-anchor="end">10</text>
<text class="tk2" x="160.9" y="1147.2" text-anchor="end">12</text>
<text class="tk2" x="160.9" y="1096.2" text-anchor="end">14</text>
<text class="tk2" x="160.9" y="1045.3" text-anchor="end">16</text>
<path class="ax" d="M170.3,1443.8h5.5M712.9,1443.8h-5.5M170.3,1392.9h5.5M712.9,1392.9h-5.5M170.3,1341.9h5.5M712.9,1341.9h-5.5M170.3,1291.0h5.5M712.9,1291.0h-5.5M170.3,1240.0h5.5M712.9,1240.0h-5.5M170.3,1189.1h5.5M712.9,1189.1h-5.5M170.3,1138.2h5.5M712.9,1138.2h-5.5M170.3,1087.2h5.5M712.9,1087.2h-5.5M170.3,1036.3h5.5M712.9,1036.3h-5.5M260.2,1455.8v-5.5M260.2,1027.6v5.5M441.6,1455.8v-5.5M441.6,1027.6v5.5M623.0,1455.8v-5.5M623.0,1027.6v5.5"/>
<path d="M260.2,1226.0V1117.8M260.2,1331.7V1436.9" stroke="#404040" stroke-width="1.15" stroke-dasharray="9.5 6" fill="none"/>
<path d="M240.2,1117.8h40M240.2,1436.9h40" stroke="#404040" stroke-width="1.5" fill="none"/>
<rect x="219.3" y="1226.0" width="81.8" height="105.7" fill="none" stroke="#4a4ae6" stroke-width="1.2"/>
<path d="M219.3,1279.0h81.8" stroke="#ff4a4a" stroke-width="1.2" fill="none"/>
<path d="M441.6,1173.3V1046.5M441.6,1301.2V1426.5" stroke="#404040" stroke-width="1.15" stroke-dasharray="9.5 6" fill="none"/>
<path d="M421.6,1046.5h40M421.6,1426.5h40" stroke="#404040" stroke-width="1.5" fill="none"/>
<rect x="400.7" y="1173.3" width="81.8" height="127.9" fill="none" stroke="#4a4ae6" stroke-width="1.2"/>
<path d="M400.7,1237.5h81.8" stroke="#ff4a4a" stroke-width="1.2" fill="none"/>
<path d="M623.0,1363.6V1338.9M623.0,1408.1V1432.8" stroke="#404040" stroke-width="1.15" stroke-dasharray="9.5 6" fill="none"/>
<path d="M603.0,1338.9h40M603.0,1432.8h40" stroke="#404040" stroke-width="1.5" fill="none"/>
<rect x="582.1" y="1363.6" width="81.8" height="44.6" fill="none" stroke="#4a4ae6" stroke-width="1.2"/>
<path d="M582.1,1386.0h81.8" stroke="#ff4a4a" stroke-width="1.2" fill="none"/>
<text x="260.2" y="1486.6" text-anchor="middle" style="font-size:22.4px">Bilbao</text>
<text x="441.6" y="1486.6" text-anchor="middle" style="font-size:22.4px">Vitoria</text>
<text x="623.0" y="1486.6" text-anchor="middle" style="font-size:22.4px">San Sebastian</text>
<g transform="translate(115.8,1271.3) rotate(-90)"><text x="0" y="0" style="font-size:24px">t<tspan dx="1.6" dy="11.8" style="font-size:19px">arrival</tspan></text></g>
<path class="ax" d="M1008.6,1018.7V1462.6H1581.2"/>
<text class="tk2" x="998.5" y="1471.3" text-anchor="end">0</text>
<text class="tk2" x="998.5" y="1397.3" text-anchor="end">1</text>
<text class="tk2" x="998.5" y="1323.2" text-anchor="end">2</text>
<text class="tk2" x="998.5" y="1249.2" text-anchor="end">3</text>
<text class="tk2" x="998.5" y="1175.2" text-anchor="end">4</text>
<text class="tk2" x="998.5" y="1101.2" text-anchor="end">5</text>
<text class="tk2" x="998.5" y="1027.1" text-anchor="end">6</text>
<text class="tk2" x="1008.1" y="1496" text-anchor="middle">0</text>
<text class="tk2" x="1103.5" y="1496" text-anchor="middle">2</text>
<text class="tk2" x="1199.0" y="1496" text-anchor="middle">4</text>
<text class="tk2" x="1294.4" y="1496" text-anchor="middle">6</text>
<text class="tk2" x="1389.9" y="1496" text-anchor="middle">8</text>
<text class="tk2" x="1485.3" y="1496" text-anchor="middle">10</text>
<text class="tk2" x="1580.7" y="1496" text-anchor="middle">12</text>
<path class="ax" d="M1008.6,1463.4h5.5M1008.6,1389.4h5.5M1008.6,1315.3h5.5M1008.6,1241.3h5.5M1008.6,1167.3h5.5M1008.6,1093.2h5.5M1008.6,1019.2h5.5M1008.6,1462.6v-5.5M1104.0,1462.6v-5.5M1199.5,1462.6v-5.5M1294.9,1462.6v-5.5M1390.4,1462.6v-5.5M1485.8,1462.6v-5.5M1581.2,1462.6v-5.5"/>
<clipPath id="fclip"><rect x="1008.6" y="1000" width="574.1" height="465.1"/></clipPath>
<g clip-path="url(#fclip)" fill="none" stroke-width="3.6" stroke-linejoin="round">
<path d="M1008.6,1463.4 1056.3,1463.4 1104.0,1463.4 1151.8,1463.4 1199.5,1463.4 1247.2,1387.9 1294.9,1065.9 1342.6,1196.9 1390.4,1167.3 1438.1,1171.0 1485.8,1293.1 1533.5,1439.0 1581.2,1448.6" stroke="#0000e6"/>
<path d="M1008.6,1463.4 1056.3,1463.4 1104.0,1463.4 1151.8,1463.4 1199.5,1463.4 1247.2,1463.4 1294.9,1345.0 1342.6,1278.3 1390.4,1324.2 1438.1,1315.3 1485.8,1315.3 1533.5,1330.1 1581.2,1393.1" stroke="#e61a1a" stroke-dasharray="13.5 12.5"/>
<path d="M1008.6,1463.4 1056.3,1463.4 1104.0,1339.8 1151.8,1161.4 1199.5,1228.7 1247.2,1420.5 1294.9,1442.7 1342.6,1444.2 1390.4,1444.2 1438.1,1444.2 1485.8,1444.2 1533.5,1444.2 1581.2,1444.2" stroke="#19e619" stroke-dasharray="13 4 6 4"/>
</g>
<text x="1295.5" y="1528.3" text-anchor="middle" style="font-size:25.6px">Time (months)</text>
<g transform="translate(964,1273) rotate(-90)"><text class="mu" x="0" y="0" style="font-size:27px;fill:#262626">σ</text><text y="11.5" style="font-size:20px"><tspan x="14.2" font-weight="bold">u</tspan><tspan x="25.6">(</tspan><tspan x="32.8" font-weight="bold">x</tspan><tspan x="45.5">,</tspan><tspan x="51.2">t</tspan><tspan x="56.6">)</tspan></text></g>
<rect x="1362.2" y="1036.3" width="202.4" height="85.1" fill="#fff" stroke="#262626" stroke-width="1"/>
<g fill="none" stroke-width="3.6"><path d="M1367.4,1052.2h52.6" stroke="#0000e6"/><path d="M1367.4,1079.9h52.6" stroke="#e61a1a" stroke-dasharray="13.5 13.5"/><path d="M1367.4,1106.7h52.6" stroke="#19e619" stroke-dasharray="13 4 6 4"/></g>
<text x="1425.5" y="1060.9" style="font-size:20.7px;fill:#111">Bilbao</text>
<text x="1425.5" y="1088.2" style="font-size:20.7px;fill:#111">Vitoria</text>
<text x="1425.5" y="1115.2" style="font-size:20.7px;fill:#111">San Sebastian</text>
</svg>
</body></html>
